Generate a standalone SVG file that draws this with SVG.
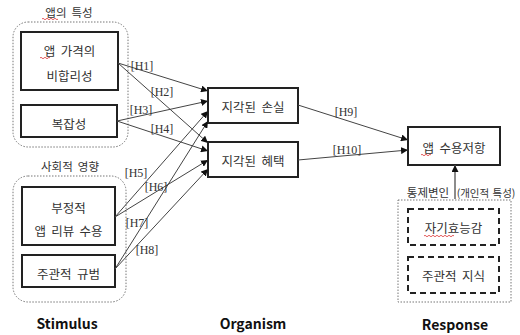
<svg xmlns="http://www.w3.org/2000/svg" width="520" height="335" viewBox="0 0 520 335">
<defs>
<marker id="ah" viewBox="0 0 10 10" refX="10" refY="5" markerWidth="7" markerHeight="7" markerUnits="userSpaceOnUse" orient="auto"><path d="M0,0 L10,5 L0,10 z" fill="#111"/></marker>
<style>
.ko{font-family:"Noto Sans CJK KR","Noto Sans",sans-serif;font-size:12.5px;fill:#333;text-anchor:middle;dominant-baseline:central;word-spacing:2.5px}
.sm{font-size:11.5px}
.hl{font-family:"Liberation Serif",serif;font-size:12px;fill:#333;text-anchor:middle;dominant-baseline:central}
.ttl{font-family:"Noto Sans CJK KR","Noto Sans",sans-serif;font-size:14px;font-weight:bold;fill:#111;text-anchor:middle;dominant-baseline:central}
.box{fill:#fff;stroke:#222;stroke-width:2}
.grp{fill:none;stroke:#777;stroke-width:1;stroke-dasharray:1.5 1.5}
.dash{fill:#fff;stroke:#222;stroke-width:2;stroke-dasharray:6 4}
.cn{stroke:#444;stroke-width:1;fill:none;marker-end:url(#ah)}
.sq{fill:none;stroke:#d33;stroke-width:0.8}
</style>
</defs>
<rect width="520" height="335" fill="#fff"/>

<g id="group-app">
<text class="ko sm" x="69" y="12">앱의 특성</text>
<path class="sq" d="M42,19 q1,-1.5 2,0 t2,0 t2,0 t2,0 t2,0 t2,0 t2,0 t2,0"/>
<rect class="grp" x="13" y="22" width="115" height="125" rx="15"/>
</g>
<g id="node-price">
<rect class="box" x="21" y="32" width="97" height="58"/>
<text class="ko" x="69.5" y="50">앱 가격의</text>
<text class="ko" x="69.5" y="75">비합리성</text>
<path class="sq" d="M40,58 q1,-1.5 2,0 t2,0 t2,0 t2,0 t2,0"/>
</g>
<g id="node-complex">
<rect class="box" x="21" y="105" width="96" height="32"/>
<text class="ko" x="69" y="123">복잡성</text>
</g>

<g id="group-social">
<text class="ko sm" x="70" y="166">사회적 영향</text>
<rect class="grp" x="13" y="176" width="113" height="126" rx="15"/>
</g>
<g id="node-review">
<rect class="box" x="22" y="187" width="93" height="58"/>
<text class="ko" x="68.5" y="207">부정적</text>
<text class="ko" x="68.5" y="230">앱 리뷰 수용</text>
</g>
<g id="node-norm">
<rect class="box" x="22" y="255" width="93" height="32"/>
<text class="ko" x="68.5" y="273">주관적 규범</text>
</g>

<g id="node-loss">
<rect class="box" x="208" y="88" width="90" height="35"/>
<text class="ko" x="253" y="106">지각된 손실</text>
</g>
<g id="node-benefit">
<rect class="box" x="208" y="142" width="90" height="35"/>
<text class="ko" x="253" y="160">지각된 혜택</text>
</g>

<g id="node-resist">
<rect class="box" x="408" y="127" width="92" height="38"/>
<text class="ko" x="454" y="147">앱 수용저항</text>
<path class="sq" d="M421,155 q1,-1.5 2,0 t2,0 t2,0 t2,0 t2,0"/>
</g>

<g id="group-control">
<text class="ko sm" x="428" y="192" style="word-spacing:0">통제변인</text>
<text class="ko" x="486" y="192" style="font-size:10.5px;word-spacing:1px">(개인적 특성)</text>
<rect class="grp" x="398" y="200" width="113" height="102"/>
</g>
<g id="node-efficacy">
<rect class="dash" x="408" y="209" width="91" height="36"/>
<text class="ko" x="453.5" y="227">자기효능감</text>
<path class="sq" d="M424,236 q1,-1.5 2,0 t2,0 t2,0 t2,0 t2,0 t2,0 t2,0 t2,0 t2,0 t2,0 t2,0 t2,0 t2,0 t2,0 t2,0"/>
</g>
<g id="node-knowledge">
<rect class="dash" x="408" y="257" width="91" height="36"/>
<text class="ko" x="453.5" y="275">주관적 지식</text>
</g>

<g id="connectors">
<line class="cn" x1="118" y1="63" x2="208" y2="91"/>
<line class="cn" x1="118" y1="63" x2="208" y2="143"/>
<line class="cn" x1="117" y1="121" x2="208" y2="101"/>
<line class="cn" x1="117" y1="121" x2="208" y2="151"/>
<line class="cn" x1="115" y1="217" x2="208" y2="111"/>
<line class="cn" x1="115" y1="217" x2="208" y2="160"/>
<line class="cn" x1="115" y1="269" x2="208" y2="121"/>
<line class="cn" x1="115" y1="269" x2="208" y2="169"/>
<line class="cn" x1="298" y1="105" x2="408" y2="140"/>
<line class="cn" x1="298" y1="160" x2="408" y2="150"/>
<line x1="455" y1="199" x2="455" y2="165" stroke="#666" stroke-width="1.5" marker-end="url(#ah)"/>
</g>

<g id="labels">
<text class="hl" x="142" y="66">[H1]</text>
<text class="hl" x="162" y="92">[H2]</text>
<text class="hl" x="141" y="110">[H3]</text>
<text class="hl" x="162" y="129">[H4]</text>
<text class="hl" x="136" y="173">[H5]</text>
<text class="hl" x="156" y="187">[H6]</text>
<text class="hl" x="137" y="223">[H7]</text>
<text class="hl" x="147" y="250">[H8]</text>
<text class="hl" x="346" y="112">[H9]</text>
<text class="hl" x="347" y="150">[H10]</text>
</g>

<text class="ttl" x="67" y="323">Stimulus</text>
<text class="ttl" x="253" y="323">Organism</text>
<text class="ttl" x="455" y="324">Response</text>
</svg>
